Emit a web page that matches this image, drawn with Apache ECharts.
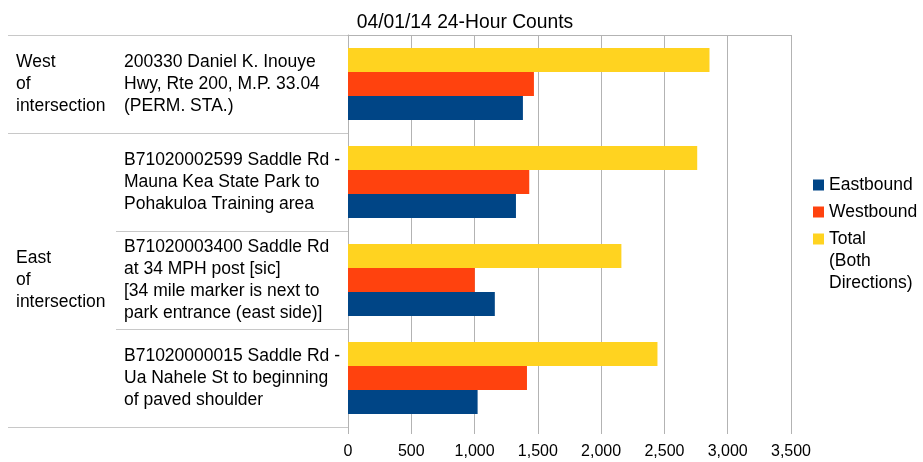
<!DOCTYPE html>
<html>
<head>
<meta charset="utf-8">
<script src="https://cdn.jsdelivr.net/npm/echarts@6/dist/echarts.min.js"></script>
<style>
  html, body { margin: 0; padding: 0; background: #fff; }
  #chart { width: 923px; height: 462px; }
</style>
</head>
<body>
<div id="chart"></div>
<script>
// count stations, top to bottom
const stations = [
  "200330 Daniel K. Inouye\nHwy, Rte 200, M.P. 33.04\n(PERM. STA.)",
  "B71020002599 Saddle Rd -\nMauna Kea State Park to\nPohakuloa Training area",
  "B71020003400 Saddle Rd\nat 34 MPH post [sic]\n[34 mile marker is next to\npark entrance (east side)]",
  "B71020000015 Saddle Rd -\nUa Nahele St to beginning\nof paved shoulder"
];
const groups = ["West\nof\nintersection", "", "East\nof\nintersection", ""];
// where a full-width separator is drawn (before station index)
const groupStarts = [0, 1, 4];

const eastbound = [1382, 1327, 1160, 1024];
const westbound = [1469, 1432, 1002, 1414];
const total = [2856, 2759, 2160, 2445];

const FONT = "Liberation Sans";
const GRID_COLOR = "#b3b3b3";
const SEP_COLOR = "#c8c8c8";

const chart = echarts.init(document.getElementById("chart"));

const legendText = { fontFamily: FONT, fontSize: 17.5, lineHeight: 22, color: "#000" };

chart.setOption({
  animation: false,
  textStyle: { fontFamily: FONT },
  title: {
    text: "04/01/14 24-Hour Counts",
    left: 460,
    top: 8,
    textAlign: "center",
    textStyle: { fontFamily: FONT, fontSize: 19.3, fontWeight: "normal", color: "#000" }
  },
  legend: [
    {
      orient: "vertical",
      left: 808,
      top: 169,
      itemWidth: 11,
      itemHeight: 11,
      itemGap: 5,
      icon: "rect",
      textStyle: legendText,
      data: ["Eastbound", "Westbound"]
    },
    {
      // multi-line entry: blank line on top keeps the swatch beside "Total"
      orient: "vertical",
      left: 808,
      top: 179,
      itemWidth: 11,
      itemHeight: 11,
      icon: "rect",
      textStyle: Object.assign({}, legendText, {
        rich: {
          s: { lineHeight: 44, fontSize: 1 },
          t: { fontFamily: FONT, fontSize: 17.5, lineHeight: 22, color: "#000" }
        }
      }),
      data: ["Total"],
      formatter: function () {
        return "{s| }\n{t|Total}\n{t|(Both}\n{t|Directions)}";
      }
    }
  ],
  grid: { left: 348, right: 132, top: 35, bottom: 35 },
  xAxis: [
    {
      type: "value",
      min: 0,
      max: 3500,
      interval: 500,
      axisLine: { show: false },
      axisTick: { show: true, length: 7, lineStyle: { color: GRID_COLOR } },
      splitLine: { show: true, lineStyle: { color: GRID_COLOR } },
      axisLabel: {
        fontFamily: FONT, fontSize: 16, color: "#000", margin: 17,
        formatter: function (v) { return v.toLocaleString("en-US"); }
      }
    },
    {
      type: "value",
      position: "top",
      min: 0,
      max: 3500,
      axisLine: { show: true, lineStyle: { color: GRID_COLOR } },
      axisTick: { show: false },
      axisLabel: { show: false },
      splitLine: { show: false }
    }
  ],
  yAxis: [
    {
      type: "category",
      data: stations,
      inverse: true,
      position: "left",
      axisLine: { show: true, lineStyle: { color: GRID_COLOR } },
      axisTick: { show: false },
      axisLabel: {
        interval: 0, align: "left", margin: 224,
        fontFamily: FONT, fontSize: 17.5, lineHeight: 22, color: "#000"
      }
    },
    {
      type: "category",
      data: groups,
      inverse: true,
      position: "left",
      offset: 232,
      axisLine: { show: false },
      axisTick: { show: false },
      axisLabel: {
        interval: 0, align: "left", margin: 100,
        fontFamily: FONT, fontSize: 17.5, lineHeight: 22, color: "#000"
      }
    }
  ],
  series: [
    {
      name: "Total", type: "bar", data: total,
      barWidth: 24, barGap: "0%",
      itemStyle: { color: "#ffd320" }
    },
    {
      name: "Westbound", type: "bar", data: westbound,
      barWidth: 24, barGap: "0%",
      itemStyle: { color: "#ff420e" }
    },
    {
      name: "Eastbound", type: "bar", data: eastbound,
      barWidth: 24, barGap: "0%",
      itemStyle: { color: "#004586" }
    }
  ]
});

// table rules to the left of the plot, placed from the category axis
function drawRules() {
  const y0 = chart.convertToPixel({ yAxisIndex: 0 }, stations[0]);
  const y1 = chart.convertToPixel({ yAxisIndex: 0 }, stations[1]);
  const band = y1 - y0;
  const plotLeft = chart.convertToPixel({ xAxisIndex: 0 }, 0);
  const rules = [];
  for (let i = 0; i <= stations.length; i++) {
    const y = Math.round(y0 + band * (i - 0.5)) + 0.5;
    const full = groupStarts.indexOf(i) !== -1;
    rules.push({
      type: "line",
      silent: true,
      shape: { x1: full ? 8 : 116, y1: y, x2: plotLeft, y2: y },
      style: { stroke: SEP_COLOR, lineWidth: 1 }
    });
  }
  chart.setOption({ graphic: rules });
}
drawRules();
</script>
</body>
</html>
